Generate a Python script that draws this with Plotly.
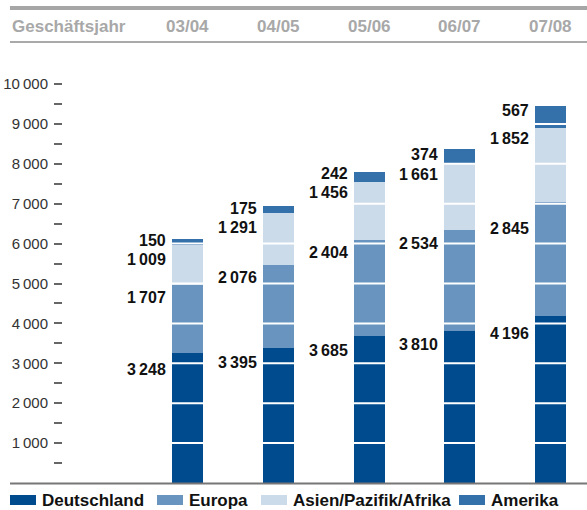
import plotly.graph_objects as go

# Umsatz nach Regionen je Geschäftsjahr
years = ["03/04", "04/05", "05/06", "06/07", "07/08"]
deutschland = [3248, 3395, 3685, 3810, 4196]
europa = [1707, 2076, 2404, 2534, 2845]
asien_pazifik_afrika = [1009, 1291, 1456, 1661, 1852]
amerika = [150, 175, 242, 374, 567]

series_names = ["Deutschland", "Europa", "Asien/Pazifik/Afrika", "Amerika"]
series_values = [deutschland, europa, asien_pazifik_afrika, amerika]
series_colors = ["#004b8d", "#6894bf", "#ccdbe9", "#3470aa"]

y_tick_values = list(range(500, 10001, 500))
grid_values = list(range(1000, 10001, 1000))

# label offsets below each segment's top edge, in pixels
label_drop_px = [
    [16, 15, 15, 14, 18],
    [12, 13, 12, 14, 26],
    [14, 14, 11, 11, 10],
    [1, 2, 1, 6, 5],
]

W, H = 587, 510
L, R, T, B = 63, 0, 50, 27
PLOT_W = W - L - R
PLOT_H = H - T - B
PX_PER_UNIT = 0.0399
Y_MAX = PLOT_H / PX_PER_UNIT
BAR_PITCH = 90.75
FIRST_CENTER = 187.5
X_MIN = -(FIRST_CENTER - L) / BAR_PITCH
X_MAX = X_MIN + PLOT_W / BAR_PITCH
BAR_WIDTH = 31 / BAR_PITCH

FONT = "Liberation Sans, Arial, sans-serif"


def xp(px):
    return (px - L) / PLOT_W


def yp(py):
    return (H - B - py) / PLOT_H


def fmt(v):
    return f"{v:,}".replace(",", "\u2009")


fig = go.Figure()
for name, vals, color in zip(series_names, series_values, series_colors):
    fig.add_trace(go.Bar(
        x=years, y=vals, name=name, width=BAR_WIDTH,
        marker=dict(color=color, line=dict(width=0)),
        showlegend=False, hoverinfo="skip",
    ))

annotations = []
shapes = []

# value labels left of each bar
for s, vals in enumerate(series_values):
    for i, year in enumerate(years):
        top = sum(series_values[k][i] for k in range(s + 1))
        annotations.append(dict(
            x=year, y=top, xref="x", yref="y",
            text=f"<b>{fmt(vals[i])}</b>", showarrow=False,
            xanchor="right", yanchor="middle",
            xshift=-(31 / 2 + 4), yshift=-label_drop_px[s][i],
            font=dict(family=FONT, size=16, color="#111111"),
        ))

# white separators across the bars
for g in grid_values:
    shapes.append(dict(type="line", xref="paper", yref="y", x0=0, x1=1, y0=g, y1=g,
                       line=dict(color="white", width=2), layer="above"))

# header
shapes.append(dict(type="line", xref="paper", yref="paper", x0=xp(10), x1=1,
                   y0=yp(8), y1=yp(8), line=dict(color="#a6a6a6", width=4)))
shapes.append(dict(type="line", xref="paper", yref="paper", x0=xp(10), x1=1,
                   y0=yp(42), y1=yp(42), line=dict(color="#555555", width=1)))
annotations.append(dict(x=xp(10), y=yp(27), xref="paper", yref="paper",
                        text="<b>Geschäftsjahr</b>", showarrow=False,
                        xanchor="left", yanchor="middle",
                        font=dict(family=FONT, size=17, color="#a8a8a8")))
for year in years:
    annotations.append(dict(x=year, y=yp(27), xref="x", yref="paper",
                            text=f"<b>{year}</b>", showarrow=False,
                            xanchor="center", yanchor="middle",
                            font=dict(family=FONT, size=17, color="#a8a8a8")))

# baseline
shapes.append(dict(type="line", xref="paper", yref="paper", x0=xp(10), x1=1,
                   y0=yp(483.5), y1=yp(483.5), line=dict(color="#777777", width=2)))

# legend
legend_square_x = [10, 157, 261, 459]
for name, color, sx in zip(series_names, series_colors, legend_square_x):
    shapes.append(dict(type="rect", xref="paper", yref="paper",
                       x0=xp(sx), x1=xp(sx + 26), y0=yp(505), y1=yp(495),
                       fillcolor=color, line=dict(width=0)))
    annotations.append(dict(x=xp(sx + 30), y=yp(500), xref="paper", yref="paper",
                            text=f"<b>{name}</b>", showarrow=False,
                            xanchor="left", yanchor="middle",
                            font=dict(family=FONT, size=17, color="#111111")))

fig.update_layout(
    width=W, height=H,
    margin=dict(l=L, r=R, t=T, b=B, pad=0),
    barmode="stack",
    paper_bgcolor="white", plot_bgcolor="white",
    xaxis=dict(type="category", range=[X_MIN, X_MAX], showticklabels=False,
               showgrid=False, zeroline=False, showline=False, ticks=""),
    yaxis=dict(range=[0, Y_MAX], tickvals=y_tick_values,
               ticktext=[fmt(v) if v % 1000 == 0 else "" for v in y_tick_values],
               ticks="outside", ticklen=8, tickwidth=1.5, tickcolor="#666666",
               ticklabelstandoff=3,
               tickfont=dict(family=FONT, size=15, color="#333333"),
               showgrid=False, zeroline=False, showline=False),
    annotations=annotations,
    shapes=shapes,
    showlegend=False,
)

fig.write_html("out.html")
